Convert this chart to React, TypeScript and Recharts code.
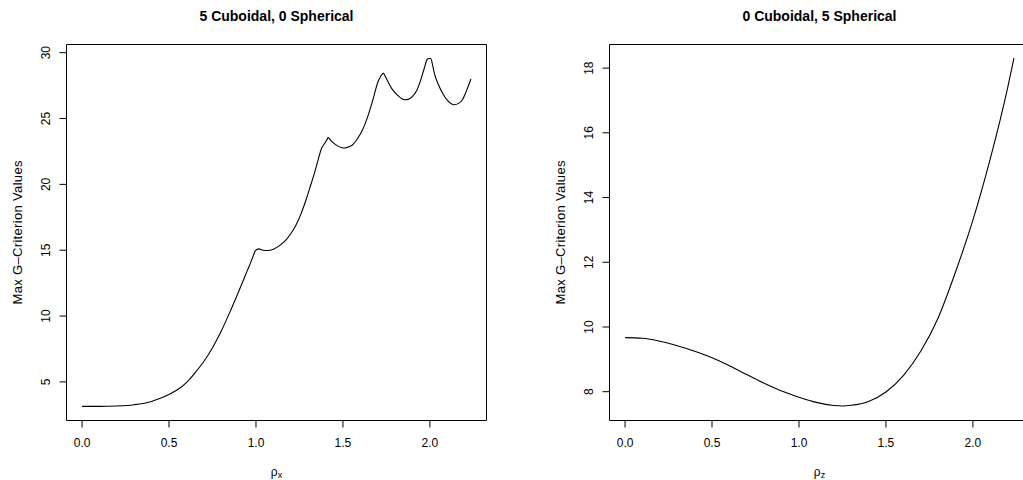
import React from 'react';
import { LineChart, Line, XAxis, YAxis, ReferenceArea } from 'recharts';

// rho values along the x axis, shared tick labels
const rhoTicks = [0, 0.5, 1, 1.5, 2];

// Panel 1: 5 cuboidal, 0 spherical
const cuboidRho = [
  0, 0.1, 0.2, 0.3, 0.4, 0.45, 0.5, 0.55, 0.6, 0.65, 0.7, 0.75, 0.8, 0.85, 0.9, 0.95,
  0.975, 0.995, 1.015, 1.04, 1.068, 1.1, 1.135, 1.173, 1.2, 1.231, 1.26, 1.288, 1.31, 1.336,
  1.355, 1.374, 1.399, 1.416, 1.44, 1.46, 1.49, 1.512, 1.535, 1.556, 1.585, 1.613, 1.64, 1.661,
  1.68, 1.699, 1.719, 1.733, 1.755, 1.785, 1.815, 1.852, 1.875, 1.9, 1.925, 1.948, 1.965, 1.985,
  1.995, 2.005, 2.015, 2.025, 2.048, 2.072, 2.1, 2.139, 2.165, 2.187, 2.21, 2.236,
];
const cuboidG = [
  3.14, 3.14, 3.17, 3.27, 3.52, 3.76, 4.05, 4.42, 4.95, 5.7, 6.55, 7.6, 8.85, 10.3, 11.85, 13.45,
  14.25, 14.95, 15.1, 15.0, 14.98, 15.08, 15.35, 15.79, 16.25, 16.93, 17.8, 18.83, 19.75, 20.86,
  21.75, 22.63, 23.2, 23.57, 23.2, 23.0, 22.8, 22.76, 22.85, 23.01, 23.5, 24.15, 25.05, 25.92,
  26.8, 27.7, 28.25, 28.46, 27.9, 27.19, 26.75, 26.43, 26.45, 26.68, 27.15, 27.95, 28.7, 29.5,
  29.56, 29.56, 29.1, 28.46, 27.6, 26.94, 26.4, 26.05, 26.15, 26.43, 27.1, 28.0,
];
// rho values where the cuboidal curve has a corner
const cuboidCusps = [0.995, 1.416, 1.733, 1.995, 2.005];
const cuboidTicks = [5, 10, 15, 20, 25, 30];

// Panel 2: 0 cuboidal, 5 spherical
const sphericalRho = [
  0, 0.1, 0.2, 0.3, 0.4, 0.5, 0.6, 0.7, 0.8, 0.9, 1.0, 1.1, 1.2, 1.25, 1.3, 1.4, 1.5, 1.6,
  1.7, 1.8, 1.9, 2.0, 2.1, 2.2, 2.236,
];
const sphericalG = [
  9.67, 9.65, 9.56, 9.42, 9.25, 9.05, 8.8, 8.53, 8.26, 8.02, 7.83, 7.67, 7.575, 7.56, 7.58, 7.7,
  7.99, 8.5, 9.25, 10.28, 11.7, 13.3, 15.2, 17.4, 18.31,
];
const sphericalCusps: number[] = [];
const sphericalTicks = [8, 10, 12, 14, 16, 18];

const FONT = "'Liberation Sans', Arial, Helvetica, sans-serif";
const PANEL_W = 543;
const PLOT_LEFT = 66.5;
const PLOT_W = 420;
const PLOT_TOP = 44.5;
const PLOT_BOTTOM = 420.5;
const X_DOMAIN: [number, number] = [-0.0894, 2.3254];

type PanelProps = {
  title: string;
  sub: string;
  xs: number[];
  ys: number[];
  cusps: number[];
  yTicks: number[];
  yDomain: [number, number];
};

// Split the curve at its corners so each smooth piece is interpolated on its own;
// pieces alternate between the keys "a" and "b", sharing the corner points.
function buildRows(xs: number[], ys: number[], cusps: number[]) {
  const bounds = [xs[0], ...cusps, xs[xs.length - 1]];
  return xs.map((x, i) => {
    const row: { x: number; a: number | null; b: number | null } = { x, a: null, b: null };
    for (let k = 0; k < bounds.length - 1; k++) {
      if (x >= bounds[k] && x <= bounds[k + 1]) {
        if (k % 2 === 0) row.a = ys[i];
        else row.b = ys[i];
      }
    }
    return row;
  });
}

const XTick = (props: any) => (
  <text x={props.x} y={447} textAnchor="middle" fontSize={12} fill="#000" fontFamily={FONT}>
    {Number(props.payload.value).toFixed(1)}
  </text>
);

const YTick = (props: any) => {
  const bx = PLOT_LEFT - 16.5;
  return (
    <text
      x={bx}
      y={props.y}
      transform={`rotate(-90, ${bx}, ${props.y})`}
      textAnchor="middle"
      fontSize={12}
      fill="#000"
      fontFamily={FONT}
    >
      {props.payload.value}
    </text>
  );
};

function Panel({ title, sub, xs, ys, cusps, yTicks, yDomain }: PanelProps) {
  const data = buildRows(xs, ys, cusps);
  const cx = PLOT_LEFT + PLOT_W / 2;
  const cy = (PLOT_TOP + PLOT_BOTTOM) / 2;
  const yTitleX = PLOT_LEFT - 45;
  const texts = () => (
    <g fontFamily={FONT} fill="#000">
      <text x={cx} y={20.5} textAnchor="middle" fontSize={14} fontWeight="bold">
        {title}
      </text>
      <text x={cx} y={476} textAnchor="middle" fontSize={12}>
        ρ<tspan fontSize={9} dy={2}>{sub}</tspan>
      </text>
      <text
        x={yTitleX}
        y={cy}
        transform={`rotate(-90, ${yTitleX}, ${cy})`}
        textAnchor="middle"
        fontSize={13}
        textLength={144}
        lengthAdjust="spacing"
      >
        Max G–Criterion Values
      </text>
    </g>
  );
  return (
    <LineChart
      width={PANEL_W}
      height={480}
      data={data}
      margin={{ top: PLOT_TOP, right: PANEL_W - PLOT_LEFT - PLOT_W, bottom: 0, left: 0 }}
    >
      <XAxis
        type="number"
        dataKey="x"
        domain={X_DOMAIN}
        allowDataOverflow
        ticks={rhoTicks}
        tick={XTick}
        tickSize={7}
        tickLine={{ stroke: '#000' }}
        axisLine={false}
        height={480 - PLOT_BOTTOM}
        interval={0}
      />
      <YAxis
        type="number"
        domain={yDomain}
        allowDataOverflow
        ticks={yTicks}
        tick={YTick}
        tickSize={7}
        tickLine={{ stroke: '#000' }}
        axisLine={false}
        width={PLOT_LEFT}
        interval={0}
      />
      <ReferenceArea
        x1={X_DOMAIN[0]}
        x2={X_DOMAIN[1]}
        y1={yDomain[0]}
        y2={yDomain[1]}
        fill="none"
        stroke="#000"
        strokeWidth={1}
        ifOverflow="visible"
        label={texts}
      />
      <Line
        type="monotone"
        dataKey="a"
        stroke="#000"
        strokeWidth={1.1}
        dot={false}
        connectNulls={false}
        isAnimationActive={false}
      />
      {cusps.length > 0 && (
        <Line
          type="monotone"
          dataKey="b"
          stroke="#000"
          strokeWidth={1.1}
          dot={false}
          connectNulls={false}
          isAnimationActive={false}
        />
      )}
    </LineChart>
  );
}

export default function App() {
  return (
    <div
      style={{
        position: 'absolute',
        left: 0,
        top: 0,
        width: 1023,
        height: 480,
        overflow: 'hidden',
        background: '#fff',
        fontFamily: FONT,
      }}
    >
      <div style={{ position: 'absolute', left: 0, top: 0 }}>
        <Panel
          title="5 Cuboidal, 0 Spherical"
          sub="x"
          xs={cuboidRho}
          ys={cuboidG}
          cusps={cuboidCusps}
          yTicks={cuboidTicks}
          yDomain={[2.07, 30.62]}
        />
      </div>
      <div style={{ position: 'absolute', left: PANEL_W, top: 0 }}>
        <Panel
          title="0 Cuboidal, 5 Spherical"
          sub="z"
          xs={sphericalRho}
          ys={sphericalG}
          cusps={sphericalCusps}
          yTicks={sphericalTicks}
          yDomain={[7.11, 18.73]}
        />
      </div>
    </div>
  );
}
